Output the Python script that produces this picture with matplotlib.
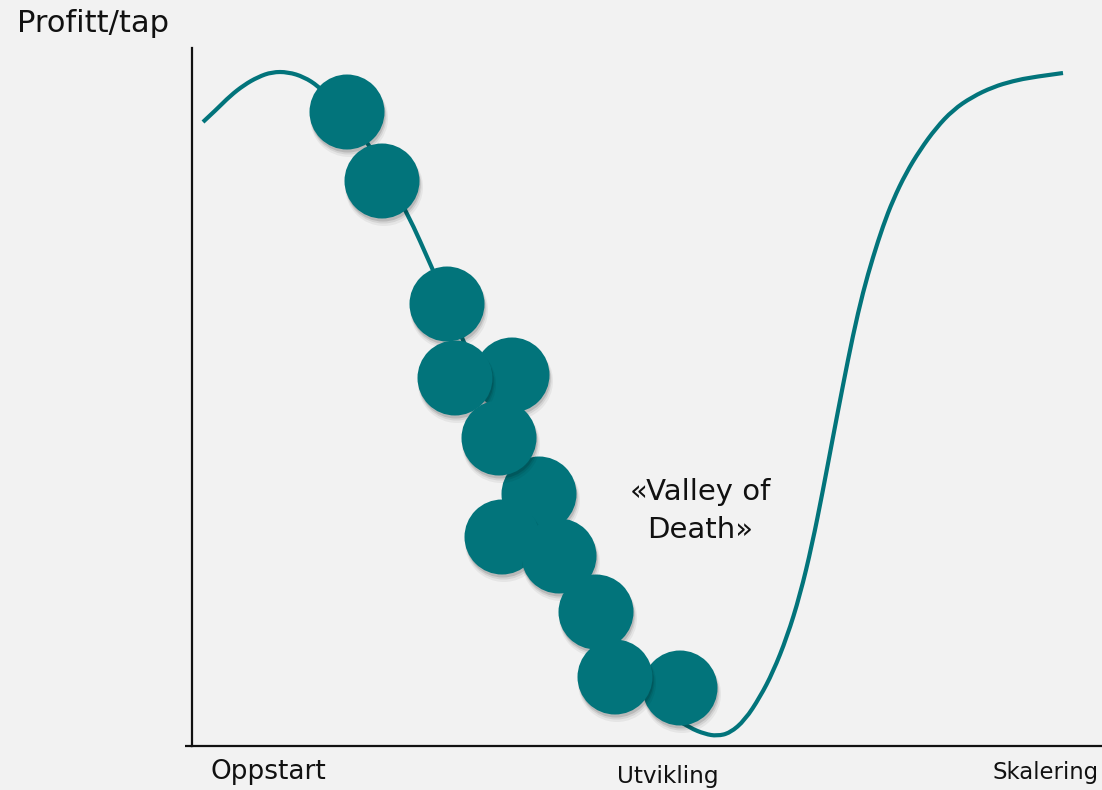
import matplotlib
matplotlib.use("Agg")
import matplotlib.pyplot as plt
from matplotlib.patches import Circle, PathPatch
from matplotlib.path import Path

# ---- data (x: time along the phases, y: profit/loss level) ----
curve_x = [11, 25, 38, 52, 66, 80, 96, 112, 126, 138, 148, 168, 191, 215, 241, 255, 273,
           298, 323, 348, 373, 398, 423, 448, 473, 498, 513, 525, 538, 553, 568,
           581, 595, 608, 620, 631, 641, 651, 661, 671, 681, 691, 701, 714, 728,
           744, 761, 780, 801, 821, 841, 871]
curve_y = [624, 637, 650, 661, 669, 674, 674, 669, 660, 648, 636, 616, 576, 534, 476, 443, 401,
           346, 291, 236, 181, 131, 86, 56, 34, 18, 12, 10, 13, 26, 49,
           74, 109, 151, 201, 256, 309, 361, 411, 454, 489, 520, 546, 573, 596,
           618, 636, 649, 659, 665, 669, 673]

# circles (x, y) in the same units, in drawing order (later = on top)
circle_x = [488, 155, 190, 255, 320, 263, 347, 307, 310, 367, 404, 423]
circle_y = [58, 634, 565, 442, 371, 368, 252, 308, 209, 190, 134, 69]

phase_labels = ["Oppstart", "Utvikling", "Skalering"]
y_label = "Profitt/tap"
annotation = "«Valley of\nDeath»"

TEAL = "#02747b"
BG = "#f2f2f2"

W, H = 1102, 790
fig = plt.figure(figsize=(W / 100, H / 100), dpi=100, facecolor=BG)
ax = fig.add_axes([192 / W, (790 - 746) / H, (W - 192) / W, (746 - 48) / H])
ax.set_facecolor(BG)
ax.set_xlim(0, W - 192)
ax.set_ylim(0, 746 - 48)
for s in ["top", "right"]:
    ax.spines[s].set_visible(False)
for s in ["left", "bottom"]:
    ax.spines[s].set_color("#111111")
    ax.spines[s].set_linewidth(1.6)
ax.set_xticks([])
ax.set_yticks([])
# bottom axis extends a little left of the vertical axis
ax.plot([-7, 0], [0, 0], color="#111111", lw=1.6, clip_on=False, solid_capstyle="butt")

# smooth curve: quadratic Bezier path using the read points as control points
pts = list(zip(curve_x, curve_y))
verts = [pts[0]]
codes = [Path.MOVETO]
for i in range(1, len(pts) - 1):
    mid = ((pts[i][0] + pts[i + 1][0]) / 2, (pts[i][1] + pts[i + 1][1]) / 2)
    if i == len(pts) - 2:
        mid = pts[i + 1]
    verts += [pts[i], mid]
    codes += [Path.CURVE3, Path.CURVE3]
ax.add_patch(PathPatch(Path(verts, codes), facecolor="none", edgecolor=TEAL, lw=3.0,
                       capstyle="butt", joinstyle="round", zorder=2))

R = 37.5
for i, (cx, cy) in enumerate(zip(circle_x, circle_y)):
    z = 3 + i * 2
    for dx, dy, a, rr in [(2, -6, 0.05, R + 1.5), (1.5, -4.5, 0.08, R + 0.5), (1, -3, 0.12, R)]:
        ax.add_patch(Circle((cx + dx, cy + dy), rr, facecolor="#000000", alpha=a,
                            edgecolor="none", zorder=z))
    ax.add_patch(Circle((cx, cy), R, facecolor=TEAL, edgecolor="none", zorder=z + 1))

FONT = "DejaVu Sans"
fig.text(17 / W, 1 - 24 / H, y_label, fontsize=22, family=FONT, ha="left", va="center", color="#111111")
fig.text(210 / W, 1 - 772 / H, phase_labels[0], fontsize=19, family=FONT, ha="left", va="center", color="#111111")
fig.text(668 / W, 1 - 777 / H, phase_labels[1], fontsize=16.7, family=FONT, ha="center", va="center", color="#111111")
fig.text(1099 / W, 1 - 773 / H, phase_labels[2], fontsize=16.4, family=FONT, ha="right", va="center", color="#111111")
ax.text(508, 235, annotation, fontsize=21, family=FONT, ha="center", va="center",
        color="#111111", linespacing=1.42)

fig.savefig("out.png", dpi=100, facecolor=BG)
